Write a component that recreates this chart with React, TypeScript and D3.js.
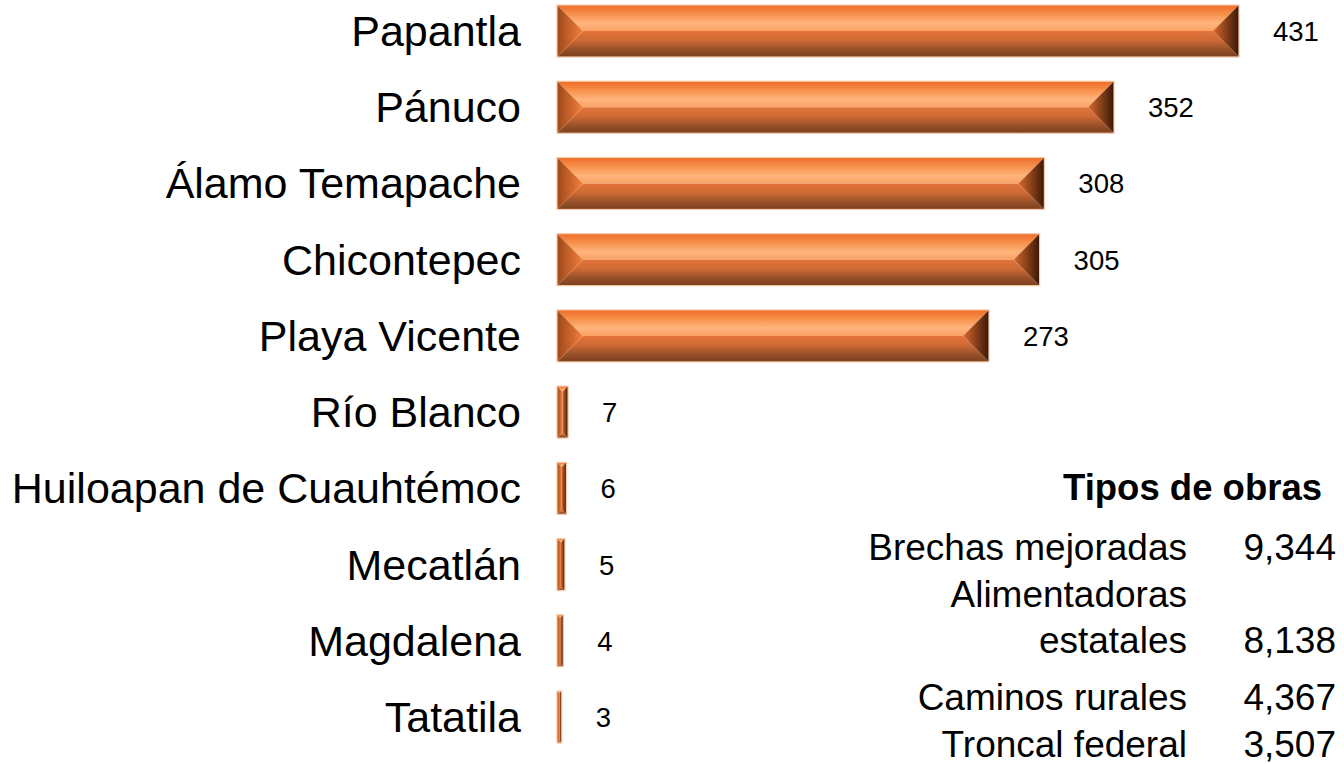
import React from "react";
import * as d3 from "d3";

const categories = [
  "Papantla",
  "Pánuco",
  "Álamo Temapache",
  "Chicontepec",
  "Playa Vicente",
  "Río Blanco",
  "Huiloapan de Cuauhtémoc",
  "Mecatlán",
  "Magdalena",
  "Tatatila",
];
const values = [431, 352, 308, 305, 273, 7, 6, 5, 4, 3];

const legendTitle = "Tipos de obras";
const legendLabels = [["Brechas mejoradas"], ["Alimentadoras", "estatales"], ["Caminos rurales"], ["Troncal federal"]];
const legendValues = [9344, 8138, 4367, 3507];

const W = 1344;
const H = 764;
const FONT = "'Liberation Sans', Arial, Helvetica, sans-serif";

export default function App() {
  const x = d3.scaleLinear().domain([0, d3.max(values) as number]).range([557, 1239]);
  const y = d3
    .scaleBand<string>()
    .domain(categories)
    .range([-7.1, 755.1])
    .paddingInner(0.318)
    .paddingOuter(0.159);
  const bh = y.bandwidth();
  const fmt = d3.format(",");

  const lineH = 46;
  const rowGap = [0, 47, 57, 47];
  let cursor = 560;
  const legendRows = legendLabels.map((lines, i) => {
    if (i > 0) cursor += rowGap[i];
    const start = cursor;
    cursor = start + (lines.length - 1) * lineH;
    return { lines, start, end: cursor, value: legendValues[i] };
  });

  return (
    <svg
      width={W}
      height={H}
      style={{ position: "absolute", left: 0, top: 0, background: "#fff" }}
      fontFamily={FONT}
    >
      <defs>
        <linearGradient id="gTop" x1="0" y1="0" x2="0" y2="1">
          <stop offset="0" stopColor="#EE6B28" />
          <stop offset="0.35" stopColor="#F7914C" />
          <stop offset="0.7" stopColor="#FFB47C" />
          <stop offset="1" stopColor="#F8A265" />
        </linearGradient>
        <linearGradient id="gBot" x1="0" y1="0" x2="0" y2="1">
          <stop offset="0" stopColor="#E3743C" />
          <stop offset="0.35" stopColor="#CF6A34" />
          <stop offset="0.7" stopColor="#98512A" />
          <stop offset="1" stopColor="#7C3F1E" />
        </linearGradient>
        <linearGradient id="gLeft" x1="0" y1="0" x2="1" y2="0">
          <stop offset="0" stopColor="#9C4719" />
          <stop offset="1" stopColor="#F5803E" />
        </linearGradient>
        <linearGradient id="gRight" x1="0" y1="0" x2="1" y2="0">
          <stop offset="0" stopColor="#D8692E" />
          <stop offset="1" stopColor="#3A1806" />
        </linearGradient>
      </defs>

      {categories.map((c, i) => {
        const x0 = x(0);
        const x1 = x(values[i]);
        const y0 = y(c) as number;
        const y1 = y0 + bh;
        const w = x1 - x0;
        const b = Math.min(bh / 2, w / 2);
        const cy = y0 + bh / 2;
        const pts = (p: number[][]) => p.map((q) => q.join(",")).join(" ");
        return (
          <g key={c}>
            <polygon points={pts([[x0, y0], [x1, y0], [x1 - b, y0 + b], [x0 + b, y0 + b]])} fill="url(#gTop)" />
            <polygon points={pts([[x0, y1], [x1, y1], [x1 - b, y1 - b], [x0 + b, y1 - b]])} fill="url(#gBot)" />
            <polygon points={pts([[x0, y0], [x0 + b, y0 + b], [x0 + b, y1 - b], [x0, y1]])} fill="url(#gLeft)" />
            <polygon points={pts([[x1, y0], [x1 - b, y0 + b], [x1 - b, y1 - b], [x1, y1]])} fill="url(#gRight)" />
            <rect x={x0} y={y0} width={w} height={bh} fill="none" stroke="#F6C9A8" strokeWidth={1.2} />
            <text x={521} y={cy + 15} textAnchor="end" fontSize={43} fill="#000">
              {c}
            </text>
            <text x={x1 + 34} y={cy + 10} textAnchor="start" fontSize={27.5} fill="#000">
              {values[i]}
            </text>
          </g>
        );
      })}

      <text x={1322} y={500} textAnchor="end" fontSize={36.5} fontWeight="bold" fill="#000">
        {legendTitle}
      </text>
      {legendRows.map((r, i) => (
        <g key={i}>
          {r.lines.map((l, j) => (
            <text key={j} x={1187} y={r.start + j * lineH} textAnchor="end" fontSize={37} fill="#000">
              {l}
            </text>
          ))}
          <text x={1336} y={r.end} textAnchor="end" fontSize={37} fill="#000">
            {fmt(r.value)}
          </text>
        </g>
      ))}
    </svg>
  );
}
